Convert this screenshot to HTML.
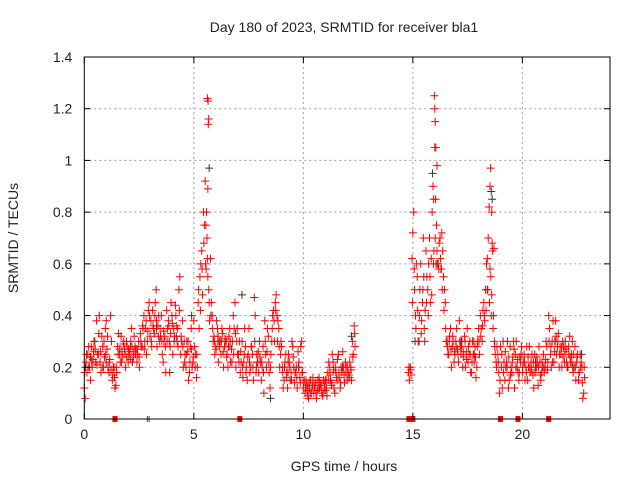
<!DOCTYPE html>
<html><head><meta charset="utf-8"><style>
body{margin:0;background:#fff}
svg text{font-family:"Liberation Sans",sans-serif;font-size:14px;fill:#222}
</style></head><body>
<svg id="chart" width="640" height="480" xmlns="http://www.w3.org/2000/svg">
<rect width="640" height="480" fill="#fff"/>
<g id="grid"></g>
<g id="marks"></g>
<rect x="84.3" y="57" width="525.7" height="362" fill="none" stroke="#000" stroke-width="1"/>
<g id="axes"></g>
<text x="344" y="32" text-anchor="middle">Day 180 of 2023, SRMTID for receiver bla1</text>
<text x="344" y="471" text-anchor="middle">GPS time / hours</text>
<text transform="translate(18,238) rotate(-90)" text-anchor="middle">SRMTID / TECUs</text>
</svg>
<script>
const xTicks=[0,5,10,15,20];
const yTicks=[0,0.2,0.4,0.6,0.8,1,1.2,1.4];
const yTickLabels=["0","0.2","0.4","0.6","0.8","1","1.2","1.4"];
const seg1Start=0, seg1Step=0.08;
const seg1A=[.12,.22,.25,.2,.28,.23,.3,.38,.25,.22,.32,.2,.35,.27,.18,.4,.15,.2,.13,.28,.25,.32,.24,.27,.3,.22,.26,.35,.24,.28,.22,.3,.33,.28,.4,.35,.3,.45,.38,.42,.33,.5,.36,.3,.4,.22,.32,.42,.38,.28,.4,.35,.44,.3,.5,.25,.38,.3,.2,.26,.18,.35,.22,.28,.16,.45,.55,.65,.8,.92,.7,.5,.62,.4,.32,.28,.35,.3,.25,.33,.28,.3,.2,.35,.27,.4,.45,.3,.25,.18,.3,.22,.28,.15,.35,.2,.25,.47,.18,.22,.3,.15,.28,.38,.2,.32,.12,.3,.42,.45,.4,.35,.25,.2,.15,.25,.12,.22,.18,.28,.14,.2,.26,.16,.3,.12,.1,.13,.08,.15,.12,.1,.14,.11,.16,.13,.09,.12,.15,.18,.2,.13,.22,.1,.16,.25,.12,.18,.2,.22,.15,.17,.2,.3,.36];
const seg1B=[.08,.18,.28,.15,.2,.3,.22,.25,.4,.18,.28,.24,.38,.2,.23,.3,.2,.12,.18,.33,.22,.26,.3,.2,.28,.25,.3,.22,.32,.27,.25,.2,.28,.35,.3,.25,.42,.32,.28,.35,.45,.28,.4,.32,.25,.3,.18,.35,.3,.45,.25,.32,.36,.28,.55,.3,.2,.25,.3,.15,.28,.2,.38,.25,.2,.35,.6,.48,.75,.58,.55,.38,.45,.3,.25,.38,.22,.3,.35,.2,.3,.25,.32,.22,.3,.35,.2,.25,.3,.22,.16,.35,.2,.25,.18,.28,.15,.4,.25,.18,.22,.2,.1,.25,.35,.18,.25,.4,.3,.48,.38,.2,.28,.12,.22,.18,.25,.15,.3,.2,.18,.12,.22,.28,.18,.15,.15,.09,.12,.1,.16,.13,.08,.12,.14,.1,.15,.11,.09,.22,.15,.25,.12,.18,.23,.16,.2,.26,.14,.2,.18,.22,.15,.25,.28];
const seg1C=[.18,.25,.2,.24,.22,.26,.27,.21,.33,.26,.2,.3,.25,.32,.22,.19,.17,.16,.2,.25,.27,.22,.29,.25,.24,.27,.23,.28,.26,.25,.27,.24,.3,.36,.27,.38,.34,.4,.3,.36,.4,.38,.32,.35,.3,.34,.28,.3,.36,.33,.37,.3,.4,.35,.42,.32,.28,.22,.25,.3,.22,.27,.24,.2,.25,.5,.42,.58,.68,.6,.62,.45,.4,.35,.3,.27,.32,.28,.3,.26,.31,.24,.28,.3,.22,.25,.33,.35,.22,.26,.2,.25,.18,.24,.22,.28,.2,.3,.2,.26,.24,.22,.18,.3,.26,.22,.2,.35,.38,.42,.3,.28,.3,.18,.2,.16,.22,.2,.15,.24,.18,.16,.2,.14,.18,.14,.12,.11,.14,.1,.13,.12,.1,.15,.12,.13,.1,.14,.12,.15,.17,.14,.19,.2,.15,.18,.14,.2,.17,.18,.2,.16,.19,.24,.33];
const seg2Start=14.8, seg2Step=0.08;
const seg2A=[.18,.2,.62,.8,.4,.55,.3,.6,.45,.35,.65,.5,.7,.62,.9,1.05,.75,.6,.7,.72,.55,.45,.3,.25,.35,.28,.22,.3,.27,.38,.25,.2,.32,.26,.22,.3,.18,.25,.28,.2,.35,.4,.3,.45,.5,.62,.82,.55,.65,.3,.22,.25,.1,.2,.3,.15,.22,.12,.28,.18,.3,.25,.2,.15,.22,.18,.25,.2,.15,.28,.22,.17,.25,.2,.13,.22,.18,.25,.2,.28,.4,.25,.3,.22,.38,.28,.2,.25,.3,.22,.27,.2,.32,.25,.18,.28,.22,.15,.25,.2,.1];
const seg2B=[.15,.17,.72,.5,.6,.3,.5,.38,.7,.42,.55,.6,.45,.8,.65,.85,.6,.68,.58,.65,.5,.3,.25,.32,.2,.3,.25,.35,.22,.28,.3,.24,.2,.35,.25,.18,.3,.22,.16,.3,.25,.35,.42,.38,.6,.7,.58,.48,.4,.25,.28,.18,.28,.12,.22,.2,.3,.15,.2,.24,.12,.3,.18,.24,.28,.22,.15,.28,.2,.18,.25,.12,.2,.22,.28,.15,.2,.18,.3,.22,.35,.2,.38,.3,.25,.33,.28,.2,.28,.3,.2,.25,.22,.3,.2,.15,.25,.18,.22,.08,.16];
const seg2C=[.2,.19,.45,.58,.35,.42,.4,.33,.5,.3,.45,.4,.55,.48,.6,.7,.65,.58,.62,.5,.42,.35,.28,.3,.27,.32,.26,.28,.25,.3,.28,.26,.3,.23,.28,.25,.22,.3,.24,.28,.3,.32,.36,.4,.42,.5,.45,.4,.35,.28,.2,.22,.15,.25,.18,.26,.2,.24,.17,.22,.27,.2,.23,.18,.25,.2,.22,.18,.24,.2,.19,.22,.18,.24,.2,.17,.22,.2,.23,.19,.3,.28,.22,.26,.32,.3,.25,.28,.24,.26,.22,.28,.24,.22,.25,.2,.24,.18,.2,.14,.2];
const peakTimes=[5.62,5.65,5.68,5.66,5.64,5.58,5.55,15.98,16.0,16.02,16.05,16.1,15.95,18.55,18.52,18.6,18.62,18.7];
const peakValues=[1.24,1.23,1.16,1.14,0.89,0.8,0.75,1.25,1.2,1.15,1.05,0.98,0.85,0.97,0.9,0.8,0.68,0.66];
const blackTimes=[0.05,0.3,1.0,2.1,3.3,4.2,4.9,5.7,6.1,7.2,7.9,8.5,9.3,10.2,11.0,11.8,12.2,15.1,15.5,15.9,16.06,16.3,17.2,18.4,18.58,18.62,19.3,20.6,21.5,22.3,22.7,3.9,6.6,9.8,17.8];
const blackValues=[0.2,0.24,0.22,0.28,0.35,0.32,0.4,0.97,0.3,0.48,0.22,0.08,0.18,0.12,0.15,0.2,0.32,0.3,0.55,0.95,0.6,0.58,0.3,0.5,0.88,0.85,0.2,0.22,0.3,0.2,0.25,0.18,0.28,0.2,0.25];
const zeroTimes=[1.4,7.1,14.82,14.9,15.0,19.0,19.8,21.2];
const zeroBlackTimes=[2.88,2.96];

const NS="http://www.w3.org/2000/svg";
const X0=84.3,X1=610,Y0=419,Y1=57,XMAX=24,YMAX=1.4;
const xs=v=>X0+(X1-X0)*v/XMAX;
const ys=v=>Y0-(Y0-Y1)*v/YMAX;
const grid=document.getElementById('grid'),axes=document.getElementById('axes'),marks=document.getElementById('marks');
function mk(tag,attrs,parent){const e=document.createElementNS(NS,tag);for(const k in attrs)e.setAttribute(k,attrs[k]);parent.appendChild(e);return e;}
xTicks.forEach(t=>{
  if(t>0){const g=mk('line',{x1:xs(t),x2:xs(t),y1:Y0,y2:Y1,stroke:'#a0a0a0','stroke-dasharray':'2,3'},grid);
  
  }
  const tk=mk('line',{x1:xs(t),x2:xs(t),y1:Y0,y2:Y0-6,stroke:'#000'},axes);
  
  
  const tk2=mk('line',{x1:xs(t),x2:xs(t),y1:Y1,y2:Y1+6,stroke:'#000'},axes);
  
  
  const l=mk('text',{x:xs(t),y:Y0+20,'text-anchor':'middle'},axes);l.textContent=t;
  
  
});
yTicks.forEach((t,i)=>{
  if(t>0&&t<YMAX){const g=mk('line',{x1:X0,x2:X1,y1:ys(t),y2:ys(t),stroke:'#a0a0a0','stroke-dasharray':'2,3'},grid);
  
  }
  const tk=mk('line',{x1:X0,x2:X0+6,y1:ys(t),y2:ys(t),stroke:'#000'},axes);
  
  
  const tk2=mk('line',{x1:X1,x2:X1-6,y1:ys(t),y2:ys(t),stroke:'#000'},axes);
  
  
  const l=mk('text',{x:X0-12,y:ys(t)+5,'text-anchor':'end'},axes);l.textContent=yTickLabels[i];
  
  
});
function plus(t,v,color,name){
  const x=xs(t),y=ys(v);
  const p=mk('path',{d:`M${x-4},${y}h8M${x},${y-4}v8`,stroke:color,'stroke-width':1,fill:'none'},marks);
  
  
}
blackTimes.forEach((t,i)=>plus(t,blackValues[i],'#333','black-point'));
seg1A.forEach((v,i)=>plus(seg1Start+i*seg1Step,v,'#f00','red-point'));
seg1B.forEach((v,i)=>plus(seg1Start+0.04+i*seg1Step,v,'#f00','red-point'));
seg1C.forEach((v,i)=>plus(seg1Start+0.02+i*seg1Step,v,'#f00','red-point'));
seg2A.forEach((v,i)=>plus(seg2Start+i*seg2Step,v,'#f00','red-point'));
seg2B.forEach((v,i)=>plus(seg2Start+0.04+i*seg2Step,v,'#f00','red-point'));
seg2C.forEach((v,i)=>plus(seg2Start+0.02+i*seg2Step,v,'#f00','red-point'));
peakTimes.forEach((t,i)=>plus(t,peakValues[i],'#f00','peak-point'));
zeroTimes.forEach(t=>{
  const r=mk('rect',{x:xs(t)-2.5,y:Y0-3,width:5,height:6,fill:'#f00'},marks);
  
  
});
zeroBlackTimes.forEach(t=>{
  const r=mk('line',{x1:xs(t),x2:xs(t),y1:Y0-3,y2:Y0+3,stroke:'#444'},marks);
  
  
});
</script>
</body></html>
